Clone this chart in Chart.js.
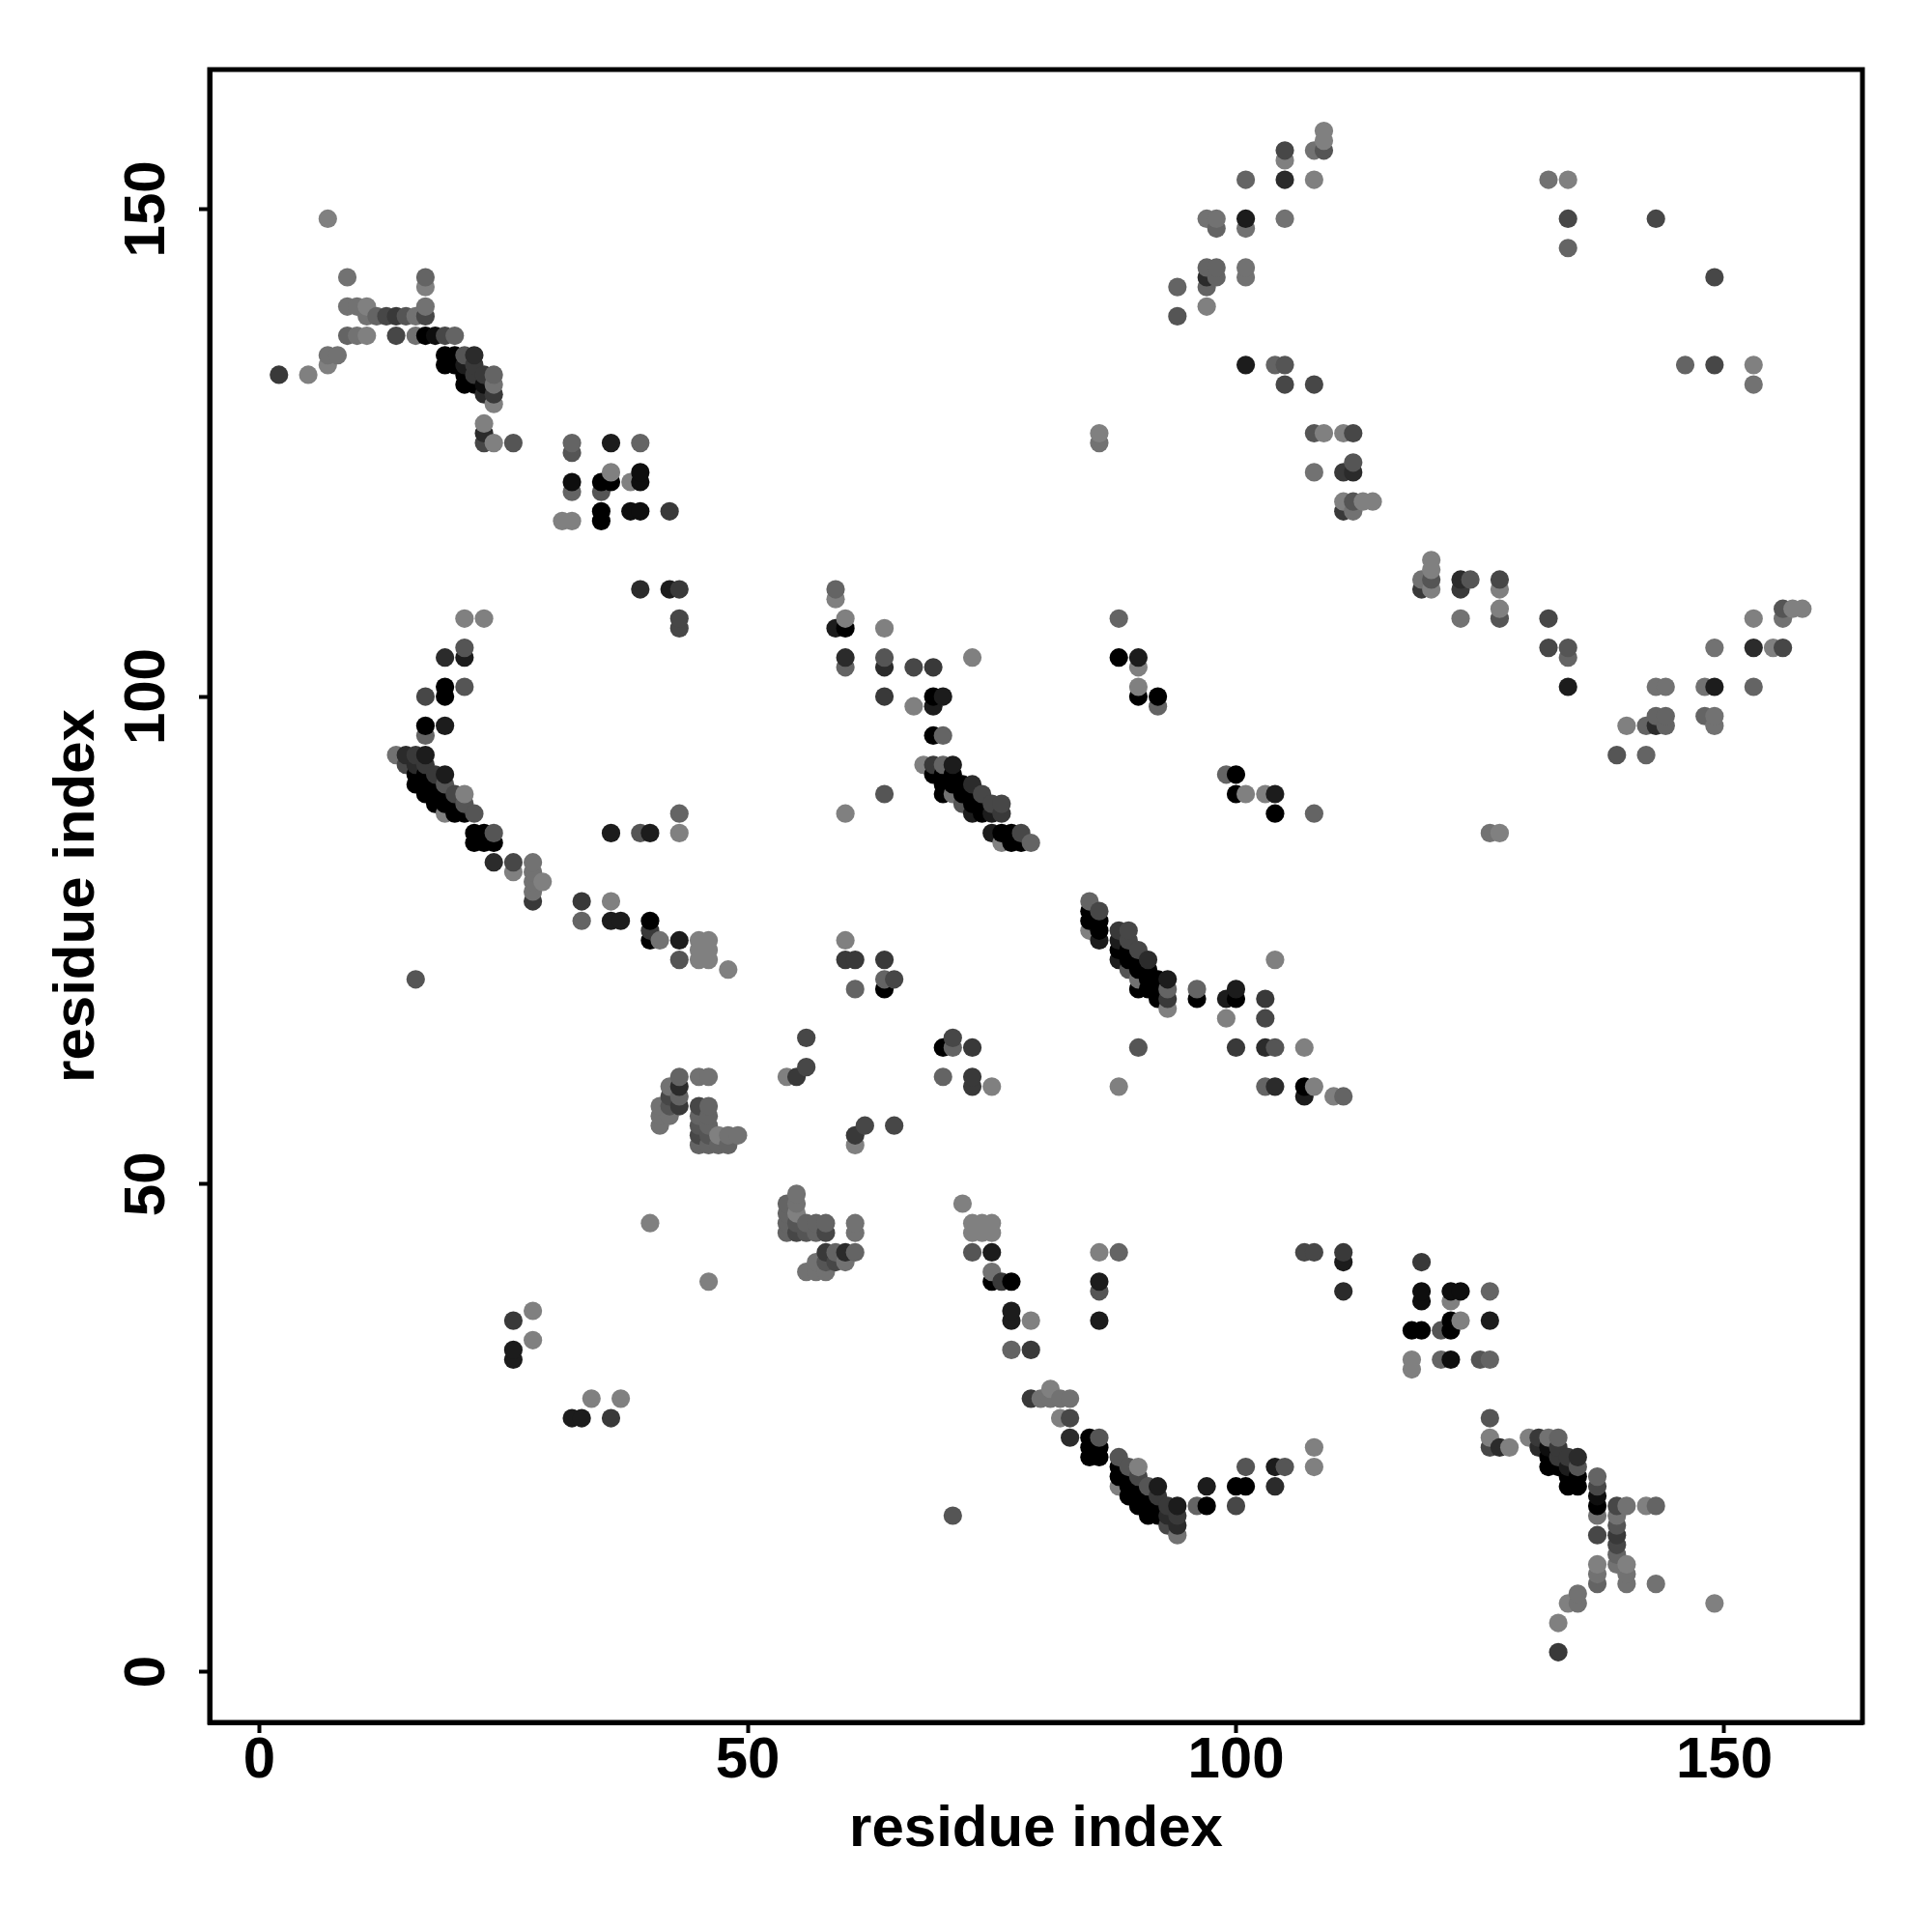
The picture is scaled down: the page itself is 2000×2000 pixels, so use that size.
<!DOCTYPE html>
<html lang="en">
<head>
    <meta charset="UTF-8">
    <title>Residue contact map</title>
    <script src="https://cdn.jsdelivr.net/npm/chart.js"></script>
    <style>
        body { margin: 0; background: #fff; }
        canvas { display: block; }
    </style>
</head>
<body>
    <canvas id="contactMap" width="2000" height="2000"></canvas>

    <script>
        // Contacts: [residue a, residue b, strength 0-9]
        // The map is symmetric, so each pair is listed once and mirrored below
        const helixEnds = [
            [2,133,5],[5,133,0],[7,149,0],[9,143,1],[17,143,2],[17,142,0],[9,140,1],[10,140,1],[11,140,0],[17,140,1],
            [11,139,1],[12,139,2],[13,139,4],[14,139,5],[15,139,3],[16,139,1],[17,139,4],
            [9,137,2],[10,137,1],[11,137,0],[14,137,4],[16,137,1],[17,137,9],[18,137,8],[19,137,4],[20,137,2],
            [7,135,1],[8,135,1],[7,134,0]
        ];
        const bandA = [
            [19,135,9],[20,135,9],[21,135,3],[22,135,6],[19,134,9],[20,134,9],[21,134,7],[22,134,5],
            [21,133,9],[22,133,5],[23,133,5],[24,133,2],[21,132,9],[22,132,9],[23,132,8],[24,132,1],
            [23,131,6],[24,131,5],[24,130,0],[23,128,0],[23,127,6],[23,126,4],[24,126,0],[26,126,3]
        ];
        const blockB = [
            [32,126,2],[32,125,3],[32,122,8],[32,121,2],[32,118,0],[31,118,0],[36,126,7],[36,123,0],[36,122,9],
            [35,122,9],[35,121,3],[35,119,9],[35,118,9],[38,122,0],[38,119,8],[39,126,2],[39,123,8],[39,122,8],
            [39,119,8],[42,119,5],[39,111,6],[42,111,7],[43,111,5],[43,108,4],[43,107,4],[86,127,0],[86,126,1]
        ];
        const bandC = [
            [21,108,0],[23,108,0],[21,105,3],[21,104,7],[19,104,6],[21,101,3],[19,101,9],[17,100,4],[19,100,9],
            [17,97,9],[19,97,7],[17,96,2],[14,94,1],[15,94,6],[16,94,5],[17,94,7],[15,93,4],[16,93,6],[17,93,5],
            [19,92,7],[18,92,5],[17,92,9],[16,92,9],[19,91,3],[18,91,9],[17,91,9],[16,91,9],
            [21,90,0],[20,90,4],[19,90,9],[18,90,9],[17,90,9],[21,89,3],[20,89,9],[19,89,9],[18,89,9],
            [22,88,3],[21,88,9],[20,88,9],[19,88,0],[24,86,3],[23,86,9],[22,86,9],[24,85,9],[23,85,9],[22,85,9],
            [24,83,6],[26,83,4],[28,83,1],[26,82,0],[28,82,1],[28,81,1],[29,81,0],[28,80,1],[28,79,5],
            [33,79,5],[36,79,0],[33,77,2],[36,77,7],[37,77,7],[40,77,9],[40,76,5],[40,75,9],[41,75,1],[43,75,7],
            [45,75,0],[46,75,0],[45,74,0],[46,74,0],[43,73,3],[45,73,0],[46,73,0],[48,72,0],[16,71,3],
            [36,86,7],[39,86,3],[40,86,7],[43,86,0],[43,88,2]
        ];
        const blockD = [
            [26,36,5],[28,37,0],[28,34,0],[26,33,7],[26,32,7],[40,46,0]
        ];
        const blockE = [
            [43,61,2],[43,60,6],[43,59,2],[43,58,5],[45,61,1],[46,61,1],[42,60,1],[42,59,4],[42,58,3],[42,57,1],
            [41,58,1],[41,57,1],[41,56,1],[45,58,4],[45,57,2],[45,56,3],[45,55,4],[45,54,2],
            [46,58,2],[46,57,2],[46,56,2],[46,55,3],[46,54,2],[47,55,0],[47,54,2],[48,55,1],[48,54,2],[49,55,1],
            [54,61,0],[55,61,5],[56,62,4],[56,65,4]
        ];
        const blockF = [
            [59,111,2],[59,110,0],[60,108,0],[60,107,9],[59,107,7],[60,104,6],[60,103,2],[64,107,0],[64,104,3],
            [64,103,6],[64,100,5],[67,103,4],[67,99,0],[69,103,5],[69,100,9],[69,99,7],[69,96,9],[70,100,7],
            [70,96,2],[73,104,0],[68,93,0],[69,93,5],[70,93,2],[71,93,7],[69,92,9],[70,92,9],[71,92,9],
            [70,91,9],[71,91,9],[72,91,9],[73,91,6],[70,90,9],[71,90,1],[72,90,9],[73,90,9],[74,90,4],
            [72,89,3],[73,89,9],[74,89,9],[75,89,4],[76,89,4],[73,88,7],[74,88,9],[75,88,7],[76,88,5],
            [75,86,7],[76,86,9],[77,86,9],[78,86,4],[76,85,0],[77,85,9],[78,85,9],[79,85,2],
            [64,90,3],[60,88,0]
        ];
        const blockG = [
            [60,75,0],[60,73,5],[61,73,5],[64,73,5],[64,71,2],[65,71,4],[61,70,2],[64,70,9],
            [88,108,2],[88,104,9],[90,104,7],[90,103,0],[90,101,0],[90,100,9],[92,100,9],[92,99,2]
        ];
        const upperRight = [
            [109,158,0],[109,157,0],[109,156,3],[108,156,1],[108,153,0],[105,156,4],[105,155,0],[105,153,6],[105,149,1],
            [101,153,2],[101,149,7],[101,148,1],[101,144,1],[101,143,1],[97,149,1],[98,149,1],[98,148,2],
            [97,144,2],[98,144,2],[97,143,6],[98,143,2],[97,142,2],[97,140,0],[94,142,2],[94,139,3],
            [101,134,7],[104,134,2],[105,134,3],[105,132,4],[108,132,4],[108,127,3],[109,127,0],[111,127,0],[112,127,4],
            [112,124,3],[108,123,1],[111,123,5],[112,123,6],[111,120,0],[112,120,3],[113,120,0],[114,120,0],[111,119,5],[112,119,1],
            [132,153,1],[134,153,0],[134,149,4],[134,146,2],[143,149,4]
        ];
        const tickValues = [0, 50, 100, 150];
        const axisTitle = 'residue index';

        const contacts = [...helixEnds, ...bandA, ...blockB, ...bandC, ...blockD, ...blockE, ...blockF, ...blockG, ...upperRight];

        // both triangles, drawn in x then y order so later residues sit on top
        const points = contacts
            .flatMap(([a, b, s]) => [{ x: a, y: b, s }, { x: b, y: a, s }])
            .sort((p, q) => p.x - q.x || p.y - q.y);

        // strength 0 is mid grey, strength 9 is black
        const shade = s => {
            const g = Math.round(128 - s * 128 / 9);
            return `rgb(${g},${g},${g})`;
        };

        const font = { family: '"Liberation Sans", Arial, sans-serif', weight: 'bold', size: 60 };

        const axisOptions = (min, max) => ({
            type: 'linear',
            min,
            max,
            afterBuildTicks: scale => { scale.ticks = tickValues.map(value => ({ value })); },
            grid: { display: true, drawOnChartArea: false, drawTicks: true, tickLength: 11, tickWidth: 4, tickColor: '#000' },
            border: { display: true, color: '#000', width: 5 },
        });

        // the R style box around the plot
        const framePlugin = {
            id: 'frame',
            afterDraw(chart) {
                const { ctx, chartArea: a } = chart;
                ctx.save();
                ctx.strokeStyle = '#000';
                ctx.lineWidth = 5;
                ctx.strokeRect(a.left, a.top, a.right - a.left, a.bottom - a.top);
                ctx.restore();
            },
        };

        new Chart(document.getElementById('contactMap').getContext('2d'), {
            type: 'scatter',
            data: {
                datasets: [{
                    data: points,
                    pointRadius: 9.6,
                    pointBorderWidth: 0,
                    pointBackgroundColor: points.map(p => shade(p.s)),
                }],
            },
            plugins: [framePlugin],
            options: {
                responsive: false,
                animation: false,
                layout: { autoPadding: false, padding: { top: 72, right: 72, left: 0, bottom: 0 } },
                plugins: { legend: { display: false }, tooltip: { enabled: false } },
                scales: {
                    x: {
                        ...axisOptions(-5.1, 164.15),
                        afterFit: scale => { scale.height = 217; },
                        ticks: { color: '#000', font, padding: -7, maxRotation: 0, autoSkip: false },
                        title: { display: true, text: axisTitle, color: '#000', font, padding: { top: 0, bottom: 70 } },
                    },
                    y: {
                        ...axisOptions(-5.2, 164.3),
                        afterFit: scale => { scale.width = 217; },
                        ticks: { color: '#000', font, padding: 2, minRotation: 90, maxRotation: 90, crossAlign: 'center', autoSkip: false },
                        title: { display: true, text: axisTitle, color: '#000', font, padding: { top: 44, bottom: 0 } },
                    },
                },
            },
        });
    </script>
</body>
</html>
